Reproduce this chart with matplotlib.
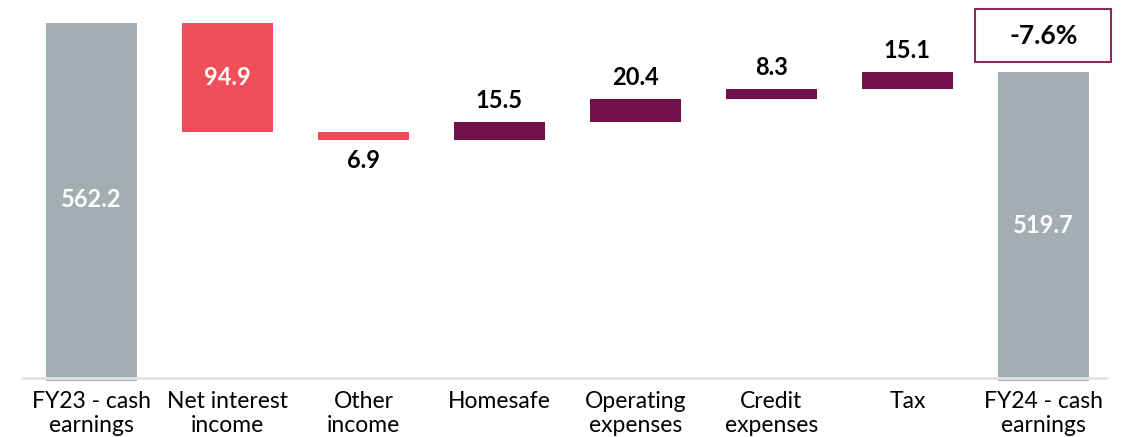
import matplotlib
matplotlib.use('Agg')
import matplotlib.pyplot as plt
from matplotlib.patches import Rectangle

# cash earnings bridge, FY23 -> FY24 ($m)
categories = ["FY23 - cash\nearnings", "Net interest\nincome", "Other\nincome", "Homesafe",
              "Operating\nexpenses", "Credit\nexpenses", "Tax", "FY24 - cash\nearnings"]
start_value = 562.2
changes = [-94.9, -6.9, 15.5, 20.4, 8.3, 15.1]
end_value = 519.7

grey = '#a3aeb3'
red = '#f04f5a'
maroon = '#72104a'
axis_floor = 250

plt.rcParams['font.family'] = ['Lato', 'DejaVu Sans']

fig = plt.figure(figsize=(11.35, 4.37), dpi=100)
ax = fig.add_axes([0, 0.128, 1, 0.872])

width = 0.67
n = len(categories)

# opening total
ax.bar(0, start_value - axis_floor, bottom=axis_floor, width=width, color=grey, zorder=2)
ax.text(0, (start_value + axis_floor) / 2 + 2, f"{start_value:.1f}", ha='center', va='center',
        color='white', fontsize=17, fontweight='bold')

running = start_value
for i, ch in enumerate(changes, start=1):
    lo = min(running, running + ch)
    col = red if ch < 0 else maroon
    ax.bar(i, abs(ch), bottom=lo, width=width, color=col, zorder=2)
    label = f"{abs(ch):.1f}"
    if abs(ch) > 50:
        ax.text(i, lo + abs(ch) / 2, label, ha='center', va='center',
                color='white', fontsize=17, fontweight='bold')
    elif ch < 0:
        ax.annotate(label, (i, lo), xytext=(0, -7), textcoords='offset points',
                    ha='center', va='top', fontsize=17, fontweight='bold')
    else:
        ax.annotate(label, (i, lo + ch), xytext=(0, 10), textcoords='offset points',
                    ha='center', va='baseline', fontsize=17, fontweight='bold')
    running += ch

# closing total
last = n - 1
ax.bar(last, end_value - axis_floor, bottom=axis_floor, width=width, color=grey, zorder=2)
ax.text(last, (end_value + axis_floor) / 2 + 1, f"{end_value:.1f}", ha='center', va='center',
        color='white', fontsize=17, fontweight='bold')

# percentage change box above the closing bar
pct = (end_value - start_value) / start_value * 100
box_bottom = end_value + 8
box_h = 47
ax.add_patch(Rectangle((last - 0.5, box_bottom), 1.0, box_h, facecolor='white',
                       edgecolor='#8a2a62', linewidth=1.5, zorder=3))
ax.text(last, box_bottom + box_h / 2, f"{pct:.1f}%", ha='center', va='center',
        fontsize=19, fontweight='bold', zorder=4)

# baseline
ax.hlines(axis_floor + 2.6, -0.52, n - 0.53, color='#dfe3e4', linewidth=2, zorder=3)

ax.set_xlim(-0.673, 7.673)
ax.set_ylim(axis_floor, axis_floor + 381 / 1.147)
ax.set_xticks(range(n))
ax.set_xticklabels(categories, fontsize=16.5, linespacing=1.2)
ax.tick_params(axis='x', length=0, pad=7)
ax.set_yticks([])
for s in ax.spines.values():
    s.set_visible(False)

fig.savefig('out.png', dpi=100)
